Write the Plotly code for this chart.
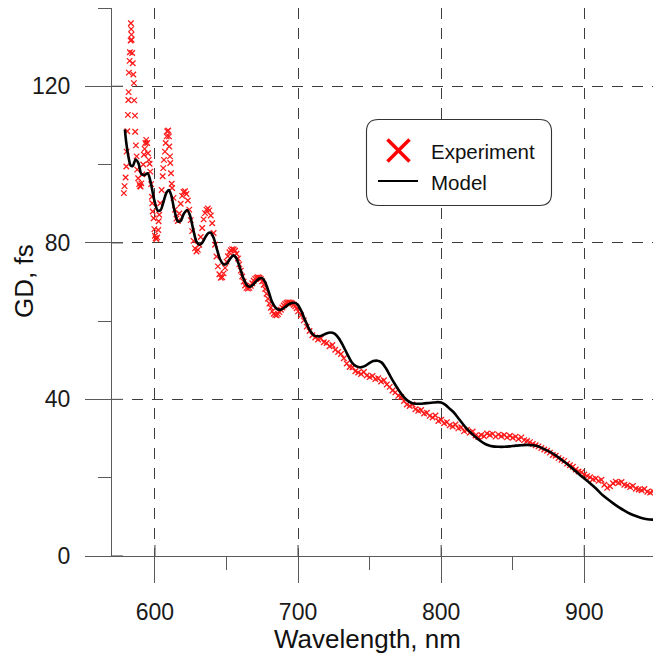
import plotly.graph_objects as go

# ---------------- data ----------------
exp_wl = [
    578.3, 578.8, 579.5, 580.0, 580.2, 580.7, 581.1, 581.4, 581.6, 581.8,
    582.3, 582.5, 583.0, 583.2, 583.4, 583.6, 583.7, 584.1, 584.5, 584.9,
    585.3, 585.5, 586.0, 586.2, 586.7, 587.2, 587.6, 588.3, 589.0, 589.5,
    590.0, 590.5, 591.2, 591.8, 592.3, 592.8, 593.3, 593.9, 594.6, 595.1,
    595.7, 596.3, 596.7, 597.3, 597.9, 598.1, 598.4, 599.1, 599.6, 600.0,
    600.5, 601.0, 601.6, 602.3, 602.6, 603.0, 603.7, 604.7, 605.4, 605.8,
    606.3, 607.0, 607.5, 608.2, 608.6, 609.3, 609.8, 610.0, 610.5, 610.7,
    611.2, 611.7,
    612, 613, 614, 615, 616, 617, 618, 619, 620, 621, 622, 623, 624, 625,
    626, 627, 628, 629, 630, 631, 632, 633, 634, 635, 636, 637, 638, 639,
    640, 641, 642, 643, 644, 645, 646, 647, 648, 649, 650, 651, 652, 653,
    654, 655, 656, 657, 658, 659, 660, 661, 662, 663, 664, 665, 666, 667,
    668, 669, 670, 671, 672, 673, 674, 675, 676, 677, 678, 679, 680, 681,
    682, 683, 684, 685, 686, 687, 688, 689, 690, 691, 692, 693, 694, 695,
    696, 697, 698, 699, 700,
    702, 704, 706, 708, 710, 712, 714, 716, 718, 720, 722, 724, 726, 728,
    730, 732, 734, 736, 738, 740, 742, 744, 746, 748, 750, 752, 754, 756,
    758, 760, 762, 764, 766, 768, 770, 772, 774, 776, 778, 780, 782, 784,
    786, 788, 790, 792, 794, 796, 798, 800, 802, 804, 806, 808, 810, 812,
    814, 816, 818, 820, 822, 824, 826, 828, 830, 832, 834, 836, 838, 840,
    842, 844, 846, 848, 850, 852, 854, 856, 858, 860, 862, 864, 866, 868,
    870, 872, 874, 876, 878, 880, 882, 884, 886, 888, 890, 892, 894, 896,
    898, 900, 902, 904, 906, 908, 910, 912, 914, 916, 918, 920, 922, 924,
    926, 928, 930, 932, 934, 936, 938, 940, 942, 944, 946, 948,
]
exp_gd = [
    92.7, 94.5, 96.7, 99.5, 103.3, 108.5, 112.7, 116.5, 118.5, 123.5,
    126.5, 128.7, 131.7, 136.1, 134.6, 133.2, 131.9, 128.5, 125.9, 123.0,
    120.8, 116.4, 112.5, 108.4, 104.9, 102.1, 98.7, 96.5, 95.0, 94.5,
    94.4, 95.2, 97.5, 100.0, 102.5, 104.0, 105.5, 106.3, 105.5, 102.9,
    101.2, 100.2, 98.2, 95.0, 91.8, 90.1, 88.0, 86.3, 83.5, 81.8,
    81.2, 81.0, 81.4, 83.3, 85.5, 87.2, 90.1, 93.5, 97.0, 99.1,
    101.2, 103.3, 105.5, 107.2, 108.5, 108.7, 107.2, 104.6, 102.1, 100.4,
    97.8, 95.1,
    94.0, 91.5, 88.5, 86.2, 85.6, 87.5, 90.0, 92.0, 93.0, 93.2, 92.5, 90.8, 88.5, 85.8,
    83.0, 80.5, 78.6, 77.8, 78.2, 79.5, 81.5, 83.8, 86.0, 87.6, 88.5, 88.8, 88.3, 87.0,
    85.0, 82.5, 79.5, 76.5, 74.0, 72.0, 71.1, 71.2, 72.2, 73.6, 75.2, 76.6, 77.6, 78.1,
    78.4, 78.3, 78.0, 77.2, 76.0, 74.5, 72.9, 71.4, 70.1, 69.1, 68.5, 68.3, 68.5, 69.0,
    69.7, 70.3, 70.8, 71.1, 71.2, 71.1, 70.8, 70.2, 69.3, 68.2, 67.0, 65.7, 64.5, 63.4,
    62.5, 61.9, 61.6, 61.5, 61.8, 62.3, 62.9, 63.5, 64.0, 64.4, 64.7, 64.8, 64.8, 64.7,
    64.5, 64.2, 63.8, 63.3, 62.5,
    61.5, 60.2, 58.6, 57.5, 56.4, 55.8, 55.3, 55.6, 54.6, 54.4, 53.6, 53.9, 52.7, 52.1,
    51.6, 50.5, 49.2, 48.3, 48.2, 47.2, 46.9, 46.5, 47.0, 46.1, 45.7, 46.0, 45.2, 45.4,
    44.6, 44.9, 43.8, 43.2, 42.3, 41.8, 40.9, 40.6, 39.6, 38.7, 38.3, 38.7, 37.5, 37.1,
    37.3, 36.4, 36.6, 35.8, 35.4, 35.9, 34.5, 34.8, 33.9, 34.2, 33.4, 33.1, 33.6, 32.6,
    32.9, 31.9, 32.2, 31.5, 31.8, 30.8, 30.4, 30.9, 30.6, 31.3, 30.9, 31.2, 30.5, 31.0,
    30.6, 30.9, 30.3, 30.7, 30.2, 30.5, 29.9, 30.3, 29.6, 29.4, 29.1, 28.6, 28.3, 28.0,
    27.6, 27.2, 26.9, 26.4, 25.8, 25.6, 25.0, 24.6, 24.3, 23.6, 23.2, 22.8, 22.1, 21.6,
    21.4, 20.8, 20.4, 20.1, 19.6, 19.8, 19.2, 19.5, 18.2, 17.4, 17.8, 18.6, 19.0, 18.7,
    18.9, 18.2, 18.0, 17.6, 17.9, 17.2, 17.0, 16.8, 17.1, 16.4, 16.2, 16.5,
]

model_wl = [
    579.0, 580.0, 581.5, 583.0, 584.5, 586.5, 588.5, 590.5, 592.5, 595.0,
    597.0, 599.5, 602.0, 604.0, 606.0, 608.0, 609.8, 611.5, 613.5, 616.0,
    618.0, 620.0, 622.5, 624.5, 627.0, 629.0, 631.0, 633.0, 635.0, 637.0,
    639.0, 641.0, 643.0, 645.5, 648.0, 650.0, 652.5, 654.8, 657.0, 659.5,
    662.0, 664.5, 666.5, 668.5, 671.0, 673.0, 675.0, 677.0, 679.5, 682.0,
    685.0, 688.0, 691.0, 694.0, 697.0, 699.5, 702.0, 705.0, 708.0, 711.0,
    714.0, 716.5, 719.5, 722.5, 725.5, 728.5, 731.5, 734.5, 737.5, 740.5,
    743.5, 746.5, 749.5, 752.5, 755.5, 758.5, 761.5, 764.5, 767.5, 770.5,
    773.5, 776.5, 779.5, 782.5, 785.5, 788.5, 791.5, 794.5, 797.5, 800.0,
    803.0, 806.0, 809.0, 812.0, 815.0, 818.0, 821.0, 824.0, 827.0, 830.0,
    833.0, 836.0, 840.0, 844.0, 848.0, 852.0, 856.0, 860.0, 864.0, 868.0,
    872.0, 876.0, 880.0, 884.0, 888.0, 892.0, 896.0, 900.0, 904.0, 908.0,
    912.0, 916.0, 920.0, 924.0, 928.0, 932.0, 936.0, 940.0, 944.0, 948.3,
]
model_gd = [
    109.0, 105.5, 102.0, 99.8, 99.6, 101.3, 100.3, 97.6, 97.3, 97.8,
    95.5, 91.0, 88.2, 88.4, 90.5, 92.8, 93.5, 92.0, 88.5, 85.5,
    85.6, 87.3, 88.4, 87.0, 83.0, 80.3, 79.5, 80.0, 81.3, 82.4,
    82.6, 81.3, 78.8, 75.8, 74.5, 74.6, 75.9, 76.8, 76.0, 73.5,
    70.8, 69.1, 68.8, 69.3, 70.3, 70.9, 71.0, 70.0, 67.5, 64.8,
    63.2, 62.9, 63.6, 64.4, 64.7, 64.3, 62.8, 60.2, 57.8, 56.4,
    56.1, 56.3, 56.8, 57.1, 56.8, 55.6, 53.7, 51.5, 49.5, 48.5,
    48.2, 48.5, 49.2, 49.8, 49.9, 49.4, 47.9, 45.9, 44.0, 42.3,
    40.8, 39.7, 39.1, 38.9, 38.9, 39.0, 39.1, 39.2, 39.3, 39.2,
    38.6, 37.6, 36.6, 35.2, 33.8, 32.5, 31.4, 30.4, 29.5, 28.8,
    28.3, 28.0, 27.9, 27.9, 28.0, 28.2, 28.3, 28.4, 28.3, 28.0,
    27.3, 26.6, 25.7, 24.6, 23.5, 22.3, 21.0, 19.8, 18.6, 17.3,
    15.8, 14.6, 13.5, 12.5, 11.6, 10.8, 10.2, 9.7, 9.4, 9.3,
]

x_major = [600, 700, 800, 900]
x_minor = [650, 750, 850]
y_major = [0, 40, 80, 120]
y_minor = [20, 60, 100, 140]

# ---------------- layout geometry ----------------
W, H = 653, 660
L, R, T, B = 112, 0, 8, 104
PW, PH = W - L - R, H - T - B
X_RANGE = [570, 948]
Y_RANGE = [0, 140]

FONT = "Liberation Sans, Arial, sans-serif"
AX = "#5a5a5a"
GRID = "#3c3c3c"


def px(xp):
    return (xp - L) / PW


def py(yp):
    return (H - B - yp) / PH


fig = go.Figure()
fig.add_trace(go.Scatter(
    x=exp_wl, y=exp_gd, mode="markers", name="Experiment", showlegend=False,
    marker=dict(symbol="x-thin", size=5.5, color="#ff0000",
                line=dict(color="#ff1a1a", width=1.3)),
))
fig.add_trace(go.Scatter(
    x=model_wl, y=model_gd, mode="lines", name="Model", showlegend=False,
    line=dict(color="black", width=2.6, shape="spline", smoothing=0.8),
))

shapes = []
# inner part of the major ticks (ticks cross the axis)
for v in x_major:
    shapes.append(dict(type="line", xref="x", yref="paper", x0=v, x1=v,
                       y0=0, y1=11 / PH, line=dict(color=AX, width=1.2)))
for v in y_major:
    shapes.append(dict(type="line", xref="paper", yref="y", x0=0, x1=11 / PW,
                       y0=v, y1=v, line=dict(color=AX, width=1.2)))

# legend box with rounded corners
bx0, bx1, by0, by1, r = 366.5, 551.5, 119.5, 205.5, 12
path = (
    f"M {px(bx0 + r)},{py(by0)} L {px(bx1 - r)},{py(by0)} "
    f"Q {px(bx1)},{py(by0)} {px(bx1)},{py(by0 + r)} "
    f"L {px(bx1)},{py(by1 - r)} Q {px(bx1)},{py(by1)} {px(bx1 - r)},{py(by1)} "
    f"L {px(bx0 + r)},{py(by1)} Q {px(bx0)},{py(by1)} {px(bx0)},{py(by1 - r)} "
    f"L {px(bx0)},{py(by0 + r)} Q {px(bx0)},{py(by0)} {px(bx0 + r)},{py(by0)} Z"
)
shapes.append(dict(type="path", xref="paper", yref="paper", path=path,
                   fillcolor="white", line=dict(color="#333333", width=1.1),
                   layer="above"))
# legend symbols
cx, cy, hs = 398.5, 150.5, 11
shapes.append(dict(type="line", xref="paper", yref="paper",
                   x0=px(cx - hs), y0=py(cy - hs), x1=px(cx + hs), y1=py(cy + hs),
                   line=dict(color="#ff0000", width=3.5), layer="above"))
shapes.append(dict(type="line", xref="paper", yref="paper",
                   x0=px(cx - hs), y0=py(cy + hs), x1=px(cx + hs), y1=py(cy - hs),
                   line=dict(color="#ff0000", width=3.5), layer="above"))
shapes.append(dict(type="line", xref="paper", yref="paper",
                   x0=px(378), y0=py(181), x1=px(418), y1=py(181),
                   line=dict(color="black", width=2.2), layer="above"))

annotations = [
    dict(text="Experiment", x=px(429), y=py(151), xref="paper", yref="paper",
         xanchor="left", yanchor="middle", showarrow=False,
         font=dict(family=FONT, size=20.5, color="#111111")),
    dict(text="Model", x=px(429), y=py(182), xref="paper", yref="paper",
         xanchor="left", yanchor="middle", showarrow=False,
         font=dict(family=FONT, size=20.5, color="#111111")),
    dict(text="Wavelength, nm", x=px(367), y=py(639), xref="paper", yref="paper",
         xanchor="center", yanchor="middle", showarrow=False,
         font=dict(family=FONT, size=26, color="#111111")),
    dict(text="GD, fs", x=px(24), y=py(281), xref="paper", yref="paper",
         xanchor="center", yanchor="middle", showarrow=False, textangle=-90,
         font=dict(family=FONT, size=26, color="#111111")),
]

axis_common = dict(
    ticks="outside", ticklen=26, tickwidth=1.2, tickcolor=AX,
    showline=True, linecolor=AX, linewidth=1.2,
    showgrid=True, gridcolor=GRID, gridwidth=1, griddash="11px,9px",
    zeroline=False, tickfont=dict(family=FONT, size=23, color="#1a1a1a"),
)

fig.update_layout(
    width=W, height=H,
    margin=dict(l=L, r=R, t=T, b=B, pad=0),
    paper_bgcolor="white", plot_bgcolor="white",
    xaxis=dict(range=X_RANGE, tickmode="array", tickvals=x_major,
               ticklabelstandoff=9,
               minor=dict(tickmode="array", tickvals=x_minor, ticks="outside",
                          ticklen=13, tickwidth=1.2, tickcolor=AX, showgrid=False),
               **axis_common),
    yaxis=dict(range=Y_RANGE, tickmode="array", tickvals=y_major,
               ticklabelstandoff=10,
               minor=dict(tickmode="array", tickvals=y_minor, ticks="outside",
                          ticklen=13, tickwidth=1.2, tickcolor=AX, showgrid=False),
               **axis_common),
    shapes=shapes,
    annotations=annotations,
    showlegend=False,
)

fig.write_html(
    "out.html",
    config={"displayModeBar": False},
    post_script="document.body.style.margin='0';document.body.style.overflow='hidden';",
)
